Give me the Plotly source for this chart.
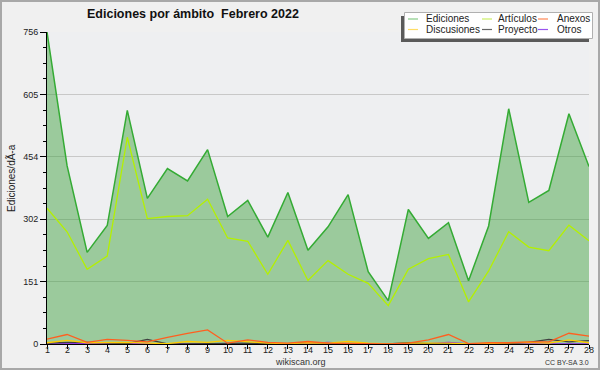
import plotly.graph_objects as go

days = list(range(1, 29))
ediciones = [756, 432, 222, 287, 566, 353, 425, 395, 471, 309, 348, 259, 367, 227,
             284, 362, 175, 105, 326, 256, 294, 153, 286, 570, 343, 372, 558, 430]
articulos = [329, 272, 181, 213, 501, 304, 309, 311, 351, 257, 249, 169, 251, 154,
             202, 169, 147, 93, 181, 207, 217, 102, 177, 272, 235, 226, 288, 250]
anexos = [12, 23, 4, 11, 9, 5, 16, 26, 34, 2, 10, 4, 2, 6,
          2, 2, 1, 0, 2, 10, 23, 1, 3, 3, 5, 5, 26, 19]
discusiones = [3, 9, 3, 4, 4, 2, 1, 6, 4, 9, 5, 2, 1, 3,
               2, 6, 2, 0, 2, 2, 2, 0, 1, 2, 4, 2, 10, 3]
proyecto = [2, 4, 4, 2, 1, 11, 0, 0, 1, 1, 2, 1, 1, 4,
            1, 1, 1, 0, 3, 1, 1, 0, 1, 1, 4, 11, 5, 8]
otros = [0, 0, 1, 2, 1, 0, 0, 0, 0, 1, 1, 0, 0, 1,
         4, 1, 0, 0, 0, 1, 4, 0, 0, 0, 0, 0, 0, 0]

y_max = 756
y_ticktext = ["0", "151", "302", "454", "605", "756"]
x_ticktext = [str(d) for d in days]

title_text = "Ediciones por ámbito  Febrero 2022"
y_title = "Ediciones/dÃ-a"

FONT = "Liberation Sans"
W, H = 600, 370
L, R, T, B = 47, 11, 32, 26
PW, PH = W - L - R, H - T - B

fig = go.Figure()

fig.add_trace(go.Scatter(x=days, y=ediciones, mode="lines", name="Ediciones",
                         line=dict(color="#34ab34", width=1.5),
                         fill="tozeroy", fillcolor="rgba(56,160,56,0.46)"))
fig.add_trace(go.Scatter(x=days, y=articulos, mode="lines", name="Artículos",
                         line=dict(color="#b4f000", width=1.3)))
fig.add_trace(go.Scatter(x=days, y=otros, mode="lines", name="Otros",
                         line=dict(color="#8a2be2", width=1.3)))
fig.add_trace(go.Scatter(x=days, y=proyecto, mode="lines", name="Proyecto",
                         line=dict(color="#404040", width=1.3)))
fig.add_trace(go.Scatter(x=days, y=discusiones, mode="lines", name="Discusiones",
                         line=dict(color="#ffcc00", width=1.3)))
fig.add_trace(go.Scatter(x=days, y=anexos, mode="lines", name="Anexos",
                         line=dict(color="#ff5f1f", width=1.3)))

major = [y_max * k / 5 for k in range(6)]
minor = [y_max * k / 20 for k in range(21) if k % 4]

fig.update_layout(
    width=W, height=H, autosize=False,
    margin=dict(l=L, r=R, t=T, b=B, pad=0, autoexpand=False),
    paper_bgcolor="#f0f0f0",
    plot_bgcolor="#eeeff1",
    showlegend=False,
    hovermode=False,
    font=dict(family=FONT, size=9, color="#333333"),
    xaxis=dict(range=[1, 28], tickmode="array", tickvals=days, automargin=False,
               showticklabels=False,
               ticks="outside", ticklen=4, tickcolor="#000000",
               showline=True, linecolor="#000000", linewidth=1,
               showgrid=False, zeroline=False),
    yaxis=dict(range=[0, y_max], tickmode="array", tickvals=major, ticktext=y_ticktext,
               automargin=False,
               ticks="outside", ticklen=6, tickcolor="#000000",
               showline=True, linecolor="#000000", linewidth=1,
               showgrid=True, gridcolor="#c8c8c8", gridwidth=1, zeroline=False,
               tickfont=dict(family=FONT, size=9, color="#222222"),
               minor=dict(tickmode="array", tickvals=minor, ticks="outside",
                          ticklen=3, tickcolor="#000000", showgrid=False)),
)

def px(xp):
    return (xp - L) / PW

def py(yp):
    return 1 - (yp - T) / PH

shapes = []
# outer border
shapes.append(dict(type="rect", xref="paper", yref="paper",
                   x0=px(1), x1=px(W - 1), y0=py(H - 1), y1=py(1),
                   line=dict(color="#a8a8a8", width=2), fillcolor="rgba(0,0,0,0)", layer="above"))
# legend shadow and box
shapes.append(dict(type="rect", xref="paper", yref="paper",
                   x0=px(401), x1=px(589), y0=py(42), y1=py(16),
                   line=dict(width=0), fillcolor="#5a5a5a", layer="above"))
shapes.append(dict(type="rect", xref="paper", yref="paper",
                   x0=px(404.5), x1=px(592.5), y0=py(38.5), y1=py(12.5),
                   line=dict(color="#b0b0b0", width=1), fillcolor="#ffffff", layer="above"))

legend_items = [
    ("Ediciones", "#88cc88", 408, 424, 19),
    ("Artículos", "#ccee66", 482, 496, 19),
    ("Anexos", "#ff8855", 538, 555, 19),
    ("Discusiones", "#ffdd66", 408, 424, 29.5),
    ("Proyecto", "#666666", 482, 496, 29.5),
    ("Otros", "#9955ee", 538, 555, 29.5),
]
annotations = []
for name, col, lx, tx, ly in legend_items:
    shapes.append(dict(type="line", xref="paper", yref="paper",
                       x0=px(lx), x1=px(lx + 10), y0=py(ly), y1=py(ly),
                       line=dict(color=col, width=1.2), layer="above"))
    annotations.append(dict(xref="paper", yref="paper", x=px(tx), y=py(ly),
                            text=name, showarrow=False, xanchor="left", yanchor="middle",
                            font=dict(family=FONT, size=10, color="#222222")))

# x tick labels placed on the x scale, tight under the axis as in the reference
for d, lab in zip(days, x_ticktext):
    annotations.append(dict(xref="x", yref="paper", x=d, y=py(349.5),
                            text=lab, showarrow=False, xanchor="center", yanchor="middle",
                            borderpad=0,
                            font=dict(family=FONT, size=9, color="#222222")))

annotations.append(dict(xref="paper", yref="paper", x=px(85), y=py(14.5),
                        text="<b>" + title_text + "</b>", showarrow=False,
                        xanchor="left", yanchor="middle",
                        font=dict(family=FONT, size=12.5, color="#111111")))
annotations.append(dict(xref="paper", yref="paper", x=px(11), y=py(178),
                        text=y_title, showarrow=False, textangle=-90,
                        xanchor="center", yanchor="middle",
                        font=dict(family=FONT, size=10, color="#222222")))
annotations.append(dict(xref="paper", yref="paper", x=px(300), y=py(362),
                        text="wikiscan.org", showarrow=False,
                        xanchor="center", yanchor="middle", borderpad=0,
                        font=dict(family=FONT, size=9, color="#333333")))
annotations.append(dict(xref="paper", yref="paper", x=px(590), y=py(362.5),
                        text="CC BY-SA 3.0", showarrow=False,
                        xanchor="right", yanchor="middle", borderpad=0,
                        font=dict(family=FONT, size=7, color="#333333")))

fig.update_layout(shapes=shapes, annotations=annotations)
fig.write_html("out.html",
               config={"displayModeBar": False, "responsive": False},
               post_script="document.body.style.margin='0';document.body.style.padding='0';document.body.style.overflow='hidden';")
